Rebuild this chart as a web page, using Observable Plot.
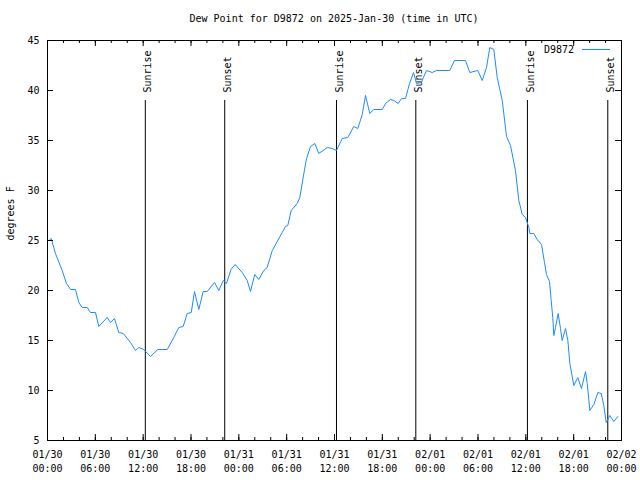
<!DOCTYPE html>
<html><head><meta charset="utf-8">
<script src="https://cdn.jsdelivr.net/npm/d3@7"></script>
<script src="https://cdn.jsdelivr.net/npm/@observablehq/plot@0.6"></script>
<style>
body{margin:0;background:#fff;}
#wrap{position:relative;width:640px;height:480px;font-family:"DejaVu Sans Mono",monospace;font-size:10px;color:#000;background:#fff;}
#title{position:absolute;top:13px;left:28px;width:612px;text-align:center;line-height:12px;white-space:pre;}
#chart{position:absolute;top:30px;left:0;}
#legtext{position:absolute;right:66px;top:44px;line-height:12px;}
#legline{position:absolute;left:582px;top:49px;width:28px;height:0;border-top:1px solid #1a8cff;}
</style></head>
<body><div id="wrap"><div id="title"></div><div id="chart"></div><div id="legtext"></div><div id="legline"></div></div>
<script>
const title = "Dew Point for D9872 on 2025-Jan-30 (time in UTC)";
const seriesName = "D9872";
const yLabel = "degrees F";
const lineColor = "#1a8cff";

// hours since 2025-01-30 00:00 UTC
const hours = [0.3,0.46,1.0,1.84,2.38,2.89,3.51,3.93,4.35,4.98,5.39,6.02,6.43,7.49,7.9,8.4,8.94,9.5,10.41,11.04,11.45,12.08,
  12.92,13.84,15.02,15.84,16.47,17.02,17.52,18.03,18.44,18.98,19.53,20.03,20.95,21.49,22.04,22.45,23.02,23.53,24.42,25.05,
  25.46,26.0,26.5,27.13,27.56,28.19,29.44,29.85,30.14,30.57,31.32,31.65,32.07,32.49,32.99,33.53,34.03,35.09,35.71,36.25,
  36.97,37.67,38.42,38.92,39.48,39.89,40.43,40.93,41.98,42.4,43.03,43.44,43.99,44.41,44.91,45.38,45.91,46.29,46.88,47.54,
  48.26,48.8,50.46,51.05,52.43,52.97,53.98,54.53,55.07,55.48,55.98,56.41,57.04,57.58,58.08,58.7,59.12,59.55,59.96,60.38,
  60.5,61.0,61.43,61.97,62.34,62.59,62.97,63.18,63.38,63.51,63.72,64.06,64.35,64.56,64.98,65.27,65.52,66.02,66.52,66.98,
  67.49,67.7,68.03,68.53,69.03,69.46,69.78,70.08,70.53,71.04,71.54];
const dewF = [25.1,25.2,23.7,22.0,20.7,20.1,20.1,18.8,18.3,18.3,17.8,17.8,16.4,17.3,16.8,17.2,15.8,15.7,14.8,14.0,14.3,14.1,
  13.4,14.1,14.1,15.3,16.3,16.4,17.7,17.8,19.9,18.1,19.9,19.9,20.8,20.0,21.0,20.7,22.1,22.6,21.8,21.0,
  19.9,21.6,21.1,22.0,22.3,24.0,25.8,26.4,26.5,28.0,28.7,29.3,31.3,33.2,34.4,34.7,33.7,34.3,34.2,34.0,
  35.2,35.3,36.4,36.2,37.6,39.5,37.7,38.1,38.1,38.7,39.1,39.0,38.7,39.2,39.2,40.6,41.8,40.7,40.8,42.0,
  41.8,42.0,42.0,43.0,43.0,41.8,42.0,41.0,42.3,44.3,44.1,41.3,39.0,35.4,34.5,32.0,29.0,27.6,27.3,26.3,
  25.7,25.7,25.1,24.6,22.8,21.6,20.9,19.0,17.3,15.5,16.3,17.7,16.2,15.0,16.2,15.0,12.7,10.5,11.3,10.2,
  11.9,10.7,8.0,8.6,9.8,9.7,8.5,6.8,7.5,6.9,7.4];

const eventHours = [12.27, 22.23, 36.25, 46.2, 60.2, 70.28];
const eventLabels = ["Sunrise", "Sunset", "Sunrise", "Sunset", "Sunrise", "Sunset"];
const yTicks = [5, 10, 15, 20, 25, 30, 35, 40, 45];

const start = Date.UTC(2025, 0, 30);
const toDate = h => new Date(start + h * 3600e3);
const data = hours.map((h, i) => ({t: toDate(h), v: dewF[i]}));
const events = eventHours.map((h, i) => ({t: toDate(h), label: eventLabels[i]}));
const xDomain = [toDate(0), toDate(72)];
const majorTicks = d3.utcHour.every(6).range(toDate(0), toDate(72.01));
const minorTicks = d3.utcHour.every(2).range(toDate(0), toDate(72.01));
const fmt = d3.utcFormat("%m/%d\n%H:%M");

const W = 640, H = 450, mL = 47, mR = 19, mT = 10, mB = 40;
const innerW = W - mL - mR, innerH = H - mT - mB;

const chart = Plot.plot({
  width: W, height: H,
  marginLeft: mL, marginRight: mR, marginTop: mT, marginBottom: mB,
  style: {fontFamily: "'DejaVu Sans Mono', monospace", fontSize: "10px", background: "white", color: "black"},
  x: {type: "utc", domain: xDomain, axis: null},
  y: {domain: [5, 45], axis: null},
  marks: [
    Plot.ruleX(events, {x: "t", stroke: "black", strokeWidth: 1, insetTop: 60}),
    Plot.text(events, {x: "t", text: "label", rotate: -90, frameAnchor: "top", textAnchor: "start", dy: 52, dx: -1, fill: "black"}),
    Plot.line(data, {x: "t", y: "v", stroke: lineColor, strokeWidth: 1}),
    Plot.ruleX(majorTicks, {x: d => d, insetTop: innerH - 6, stroke: "black"}),
    Plot.ruleX(majorTicks, {x: d => d, insetBottom: innerH - 6, stroke: "black"}),
    Plot.ruleX(minorTicks, {x: d => d, insetTop: innerH - 3, stroke: "black"}),
    Plot.ruleX(minorTicks, {x: d => d, insetBottom: innerH - 3, stroke: "black"}),
    Plot.ruleY(yTicks, {y: d => d, insetRight: innerW - 6, stroke: "black"}),
    Plot.ruleY(yTicks, {y: d => d, insetLeft: innerW - 6, stroke: "black"}),
    Plot.text(majorTicks, {x: d => d, text: d => fmt(d), frameAnchor: "bottom", lineAnchor: "top", dy: 7, lineHeight: 1.45, fill: "black"}),
    Plot.text(yTicks, {y: d => d, text: d => String(d), frameAnchor: "left", textAnchor: "end", dx: -8, fill: "black"}),
    Plot.text([yLabel], {text: d => d, frameAnchor: "left", rotate: -90, dx: -37, fill: "black"}),
    Plot.frame({stroke: "black"})
  ]
});
document.getElementById("chart").appendChild(chart);
document.getElementById("title").textContent = title;
document.getElementById("legtext").textContent = seriesName;
</script>
</body></html>
